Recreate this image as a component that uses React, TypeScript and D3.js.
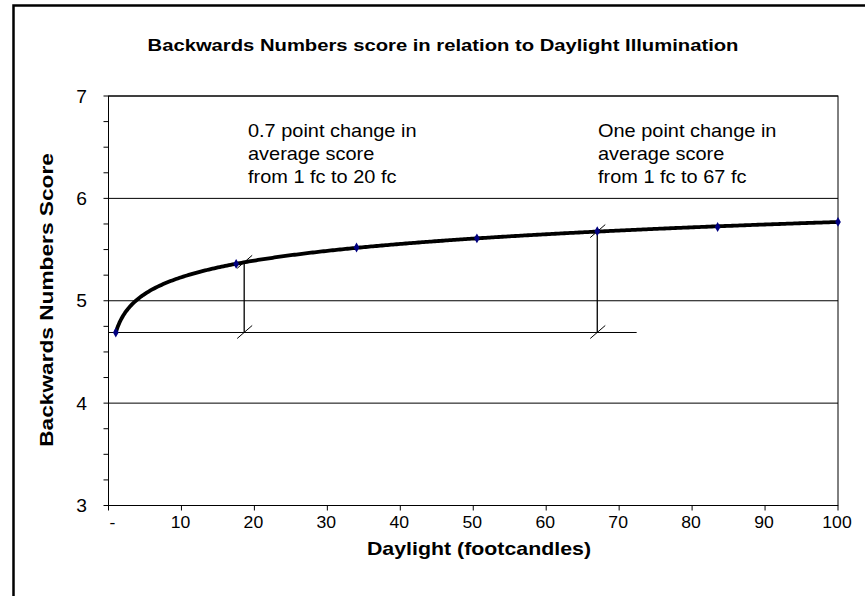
import React from "react";
import * as d3 from "d3";

// ---- data ----
const daylight = [1, 17.5, 34, 50.5, 67, 83.5, 100];
const scores = [4.69, 5.36, 5.52, 5.61, 5.68, 5.72, 5.77];
const xTicks = [0, 10, 20, 30, 40, 50, 60, 70, 80, 90, 100];
const yTicks = [3, 4, 5, 6, 7];
const yMinorTicks = d3.range(3, 7.001, 0.25);
const annotations = [
  { x: 18.6, lines: ["0.7 point change in", "average score", "from 1 fc to 20 fc"], textX: 248 },
  { x: 67, lines: ["One point change in", "average score", "from 1 fc to 67 fc"], textX: 598 },
];
const baselineEndX = 72.4;

const W = 865;
const H = 596;
const plot = { left: 108.5, right: 838, top: 96, bottom: 505.5 };
const FONT = "'Liberation Sans', Arial, Helvetica, sans-serif";

// least-squares logarithmic trendline derived from the data
const lx = daylight.map((v) => Math.log(v));
const mx = d3.mean(lx) as number;
const my = d3.mean(scores) as number;
const b =
  d3.sum(lx.map((v, i) => (v - mx) * (scores[i] - my))) /
  d3.sum(lx.map((v) => (v - mx) * (v - mx)));
const a = my - b * mx;
const trend = (x: number) => a + b * Math.log(x);

export default function App() {
  const x = d3.scaleLinear().domain([0, 100]).range([plot.left, plot.right]);
  const y = d3.scaleLinear().domain([3, 7]).range([plot.bottom, plot.top]);

  const trendPts = d3.range(1, 100.001, 0.25).map((v) => [x(v), y(trend(v))] as [number, number]);
  const line = d3.line().curve(d3.curveLinear)(trendPts) as string;
  const diamond = d3.symbol().type(d3.symbolDiamond).size(28)() as string;
  const y0 = scores[0];

  const slash = (cx: number, cy: number, key: string) => (
    <line key={key} x1={cx - 7} y1={cy + 6} x2={cx + 8} y2={cy - 7} stroke="#000" strokeWidth={1} />
  );

  return (
    <svg
      width={W}
      height={H}
      style={{ position: "absolute", left: 0, top: 0, background: "#fff" }}
      fontFamily={FONT}
    >
      <rect x={0} y={0} width={W} height={H} fill="#fff" />
      {/* outer frame */}
      <path d={`M13.5,${H + 5} V5.5 H${W + 5}`} fill="none" stroke="#000" strokeWidth={2.5} />

      {/* title */}
      <text
        transform={`translate(443,51) scale(1.19,1)`}
        textAnchor="middle"
        fontSize={17}
        fontWeight="bold"
      >
        Backwards Numbers score in relation to Daylight Illumination
      </text>

      {/* gridlines */}
      {yTicks.map((t) => (
        <line key={"g" + t} x1={plot.left} x2={plot.right} y1={y(t)} y2={y(t)} stroke="#000" strokeWidth={1} />
      ))}
      {/* plot border */}
      <rect
        x={plot.left}
        y={plot.top}
        width={plot.right - plot.left}
        height={plot.bottom - plot.top}
        fill="none"
        stroke="#000"
        strokeWidth={1}
      />

      {/* y axis ticks */}
      {yMinorTicks.map((t) => (
        <line key={"yt" + t} x1={plot.left - 5} x2={plot.left} y1={y(t)} y2={y(t)} stroke="#000" strokeWidth={1} />
      ))}
      {yTicks.map((t) => (
        <text
          key={"yl" + t}
          transform={`translate(87,${y(t) + 6.5}) scale(1.1,1)`}
          textAnchor="end"
          fontSize={17.5}
        >
          {t}
        </text>
      ))}

      {/* x axis ticks */}
      {xTicks.map((t) => (
        <g key={"xt" + t}>
          <line x1={x(t)} x2={x(t)} y1={plot.bottom} y2={plot.bottom + 5} stroke="#000" strokeWidth={1} />
          <text
            transform={`translate(${x(t) + (t === 0 ? 4 : -1)},528) scale(1.1,1)`}
            textAnchor="middle"
            fontSize={16}
          >
            {t === 0 ? "-" : t}
          </text>
        </g>
      ))}

      {/* axis titles */}
      <text
        transform={`translate(479,555) scale(1.22,1)`}
        textAnchor="middle"
        fontSize={17.5}
        fontWeight="bold"
      >
        Daylight (footcandles)
      </text>
      <text
        transform={`translate(53,300) rotate(-90) scale(1.26,1)`}
        textAnchor="middle"
        fontSize={18}
        fontWeight="bold"
      >
        Backwards Numbers Score
      </text>

      {/* annotation lines */}
      <line x1={x(0)} x2={x(baselineEndX)} y1={y(y0)} y2={y(y0)} stroke="#000" strokeWidth={1} />
      {annotations.map((an, i) => (
        <g key={"an" + i}>
          <line x1={x(an.x)} x2={x(an.x)} y1={y(y0)} y2={y(trend(an.x))} stroke="#000" strokeWidth={1.3} />
          {slash(x(an.x), y(trend(an.x)), "s1")}
          {slash(x(an.x), y(y0), "s2")}
          {an.lines.map((l, j) => (
            <text
              key={j}
              transform={`translate(${an.textX},${137 + j * 23}) scale(1.14,1)`}
              fontSize={17.5}
            >
              {l}
            </text>
          ))}
        </g>
      ))}

      {/* trendline */}
      <path d={line} fill="none" stroke="#000" strokeWidth={3.8} strokeLinejoin="round" />

      {/* markers */}
      {daylight.map((d, i) => (
        <path key={"m" + i} d={diamond} transform={`translate(${x(d)},${y(scores[i])})`} fill="#000080" />
      ))}
    </svg>
  );
}
